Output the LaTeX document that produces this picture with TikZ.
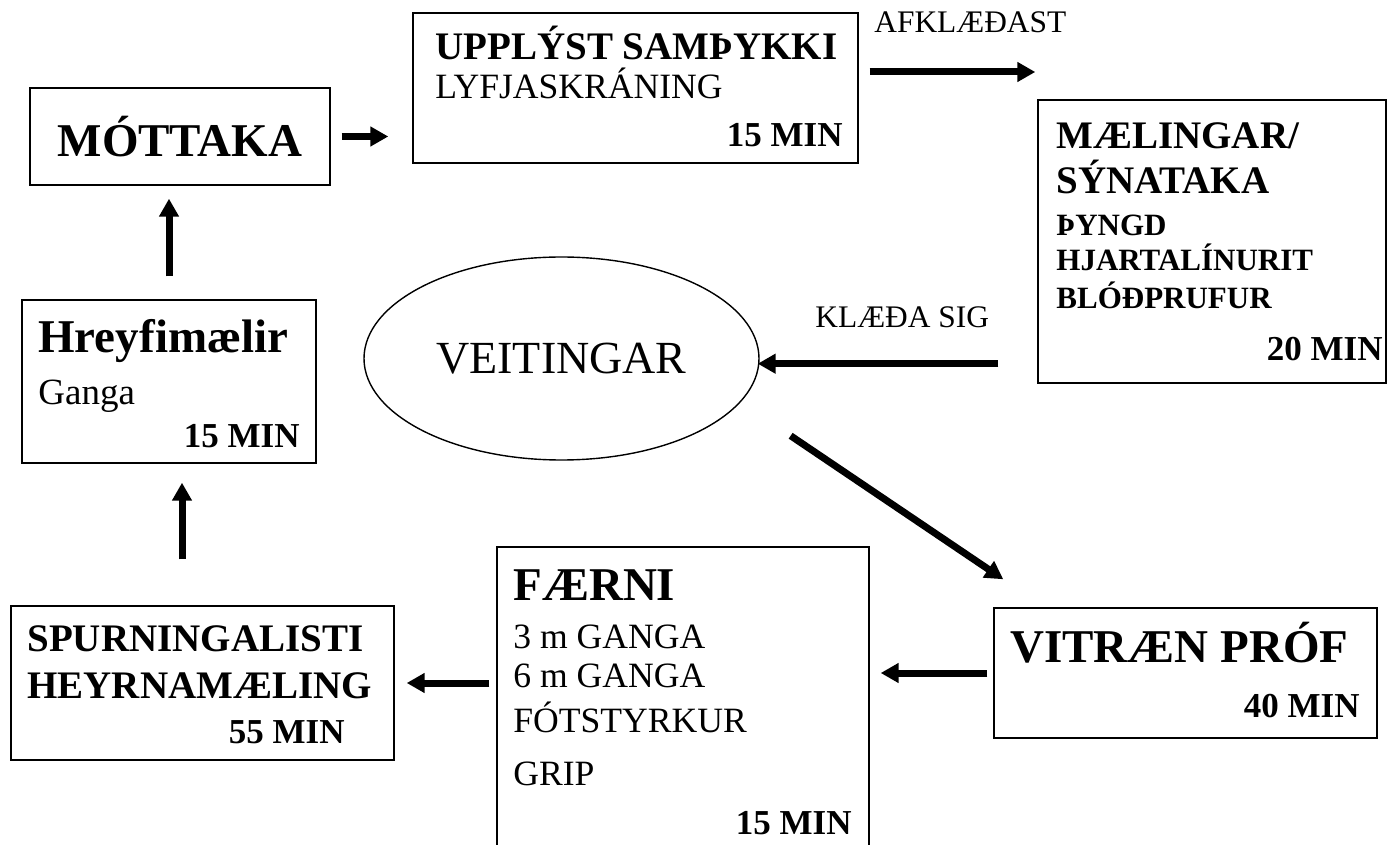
\documentclass[tikz,border=0pt]{standalone}
\usepackage{fontspec}
\setmainfont{Liberation Serif}
\usetikzlibrary{arrows.meta,shapes.geometric}

\begin{document}
\begin{tikzpicture}[x=0.5pt,y=-0.5pt,
  box/.style={draw,line width=0.7pt,inner sep=0},
  big/.style={font=\fontsize{23.5}{28}\selectfont\bfseries},
  head/.style={anchor=base west,inner sep=0,big},
  mid/.style={anchor=base west,inner sep=0,font=\fontsize{19.5}{23}\selectfont\bfseries},
  txt/.style={anchor=base west,inner sep=0,font=\fontsize{17.8}{21}\selectfont},
  sml/.style={anchor=base west,inner sep=0,font=\fontsize{15.5}{18}\selectfont\bfseries},
  lbl/.style={anchor=base west,inner sep=0,font=\fontsize{15.7}{18}\selectfont},
  mins/.style={anchor=base east,inner sep=0,font=\fontsize{17.5}{21}\selectfont\bfseries},
  arr/.style={line width=3.5pt,-{Triangle[length=9pt,width=9.5pt]}}]

	\useasboundingbox (0,0) rectangle (1389,845);

	% boxes
	\node[box,big,minimum width=150pt,minimum height=48.5pt] (mottaka) at (180,136.5) {MÓTTAKA};
	\node[box,minimum width=222.5pt,minimum height=75pt] (upplyst) at (635.5,88) {};
	\node[box,minimum width=174pt,minimum height=141.5pt] (maelingar) at (1212,241.5) {};
	\node[draw,ellipse,line width=0.7pt,inner sep=0,minimum width=197.5pt,minimum height=101.5pt,
	      font=\fontsize{23}{28}\selectfont] (veitingar) at (561.5,358.5) {VEITINGAR};
	\node[box,minimum width=147pt,minimum height=81.5pt] (hreyfi) at (169,381.5) {};
	\node[box,minimum width=191.5pt,minimum height=77pt] (spurn) at (202.5,683) {};
	\node[box,minimum width=186pt,minimum height=151.5pt] (faerni) at (683,698.5) {};
	\node[box,minimum width=191.5pt,minimum height=65pt] (vitraen) at (1185.5,673) {};

	% texts
	\node[mid] (t1) at (435,60) {UPPLÝST SAMÞYKKI};
	\node[txt] (t2) at (435,99) {LYFJASKRÁNING};
	\node[mins] (t3) at (843,147) {15 MIN};
	\node[lbl] (t4) at (874,33) {AFKLÆÐAST};
	\node[mid] (t5) at (1056,149) {MÆLINGAR/};
	\node[mid] (t6) at (1056,194) {SÝNATAKA};
	\node[sml] (t7) at (1056,236) {ÞYNGD};
	\node[sml] (t8) at (1056,271) {HJARTALÍNURIT};
	\node[sml] (t9) at (1056,309) {BLÓÐPRUFUR};
	\node[mins] (t10) at (1383,361) {20 MIN};
	\node[lbl] (t11) at (815,328) {KLÆÐA SIG};
	\node[head] (t12) at (38,353) {Hreyfimælir};
	\node[txt,font=\fontsize{18.5}{21}\selectfont] (t13) at (38,405) {Ganga};
	\node[mins] (t14) at (300,448) {15 MIN};
	\node[mid] (t15) at (27,652) {SPURNINGALISTI};
	\node[mid] (t16) at (27,698) {HEYRNAMÆLING};
	\node[mins] (t17) at (345,743) {55 MIN};
	\node[head] (t18) at (513,601) {FÆRNI};
	\node[txt] (t19) at (513,648) {3 m GANGA};
	\node[txt] (t20) at (513,688) {6 m GANGA};
	\node[txt] (t21) at (513,733) {FÓTSTYRKUR};
	\node[txt] (t22) at (513,785) {GRIP};
	\node[mins] (t23) at (852,834) {15 MIN};
	\node[head] (t24) at (1010,662) {VITRÆN PRÓF};
	\node[mins] (t25) at (1360,718) {40 MIN};

	% arrows
	\draw[arr,shorten <=5.5pt,shorten >=12pt] (mottaka.east) -- (mottaka.east -| upplyst.west);
	\draw[arr,shorten <=5.5pt,shorten >=1pt] ([yshift=8pt]upplyst.east) -- ([yshift=8pt]upplyst.east -| maelingar.west);
	\draw[arr,shorten >=18.5pt] ([shift={(-39,-20)}]maelingar.south west) -- ([shift={(-39,-20)}]maelingar.south west -| veitingar.east);
	\draw[arr] ([shift={(89,5)}]veitingar.south east) -- ([shift={(10,-28)}]vitraen.north west);
	\draw[arr,shorten <=3pt,shorten >=5.5pt] (vitraen.west) -- (vitraen.west -| faerni.east);
	\draw[arr,shorten <=3.5pt,shorten >=6pt] ([yshift=7.75pt]faerni.west) -- ([yshift=7.75pt]faerni.west -| spurn.east);
	\draw[arr,shorten <=23pt,shorten >=9.5pt] ([xshift=-10.25pt]spurn.north) -- ([xshift=-10.25pt]spurn.north |- hreyfi.south);
	\draw[arr,shorten <=11.5pt,shorten >=6.5pt] (hreyfi.north) -- (hreyfi.north |- mottaka.south);
\end{tikzpicture}
\end{document}
